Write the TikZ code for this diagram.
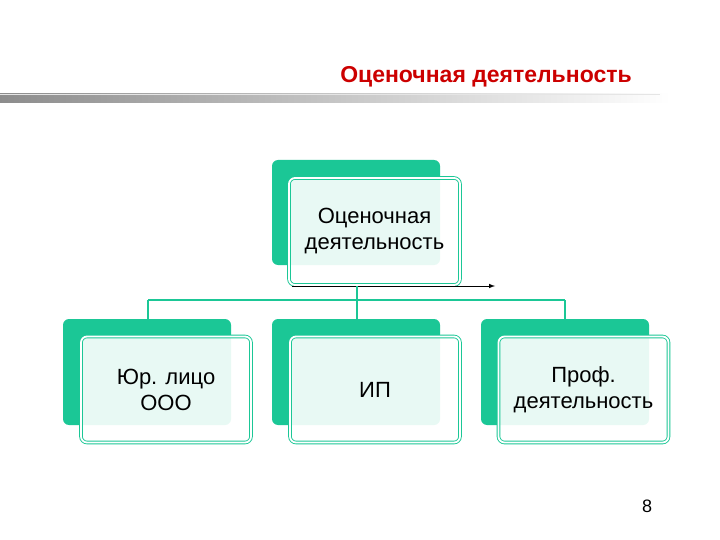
\documentclass[tikz,border=0pt]{standalone}
\usepackage{fontspec}
\setmainfont{Liberation Sans}
\begin{document}
\begin{tikzpicture}[x=1pt,y=-1pt,
  back/.style={fill=gr,rounded corners=6pt},
  front/.style={draw=gr,line width=0.9pt,double=white,double distance=1.8pt,fill=white,fill opacity=0.9,text opacity=1,rounded corners=6pt,align=center,font=\fontsize{22}{26}\selectfont,inner sep=0pt},
  conn/.style={draw=gr,line width=1.2pt}]
\definecolor{gr}{HTML}{1BC796}
\useasboundingbox (0,0) rectangle (720,540);
\fill[white] (0,0) rectangle (720,540);
\shade[left color=black!45,right color=white] (0,94) rectangle (670,103);
\draw[black!10] (0,94) -- (660,94);
\node[font=\bfseries\fontsize{23}{27}\selectfont,text=red!80!black] (title) at (486,77) {Оценочная деятельность};
% top
\fill[back] (272,160) rectangle (440,265);
\node[front,minimum width=171pt,minimum height=107pt] (top) at (374.5,231.5) {Оценочная\\деятельность};
\coordinate (a1) at (292,286); \coordinate (a2) at (495,286);
\draw[-latex,line width=1pt] (a1) -- (a2);
% bottom
\fill[back] (63,319) rectangle (231,425);
\fill[back] (272,319) rectangle (440,425);
\fill[back] (481,319) rectangle (649,425);
\coordinate (j) at (357,300);
\coordinate (jl) at (148,300); \coordinate (jr) at (565,300);
\draw[conn] (357,286) -- (j);
\draw[conn] (jl) -- (jr);
\draw[conn] (jl) -- (148,320);
\draw[conn] (j) -- (357,320);
\draw[conn] (jr) -- (565,320);
\node[front,minimum width=170pt,minimum height=106pt] (b1) at (166,389.5) {Юр. лицо\\ООО};
\node[front,minimum width=170pt,minimum height=106pt] (b2) at (375,389.5) {ИП};
\node[front,minimum width=170pt,minimum height=106pt] (b3) at (583.5,389.5) {Проф.\\деятельность};
\node[font=\fontsize{18}{20}\selectfont] (pg) at (647,506) {8};
\end{tikzpicture}
\end{document}
